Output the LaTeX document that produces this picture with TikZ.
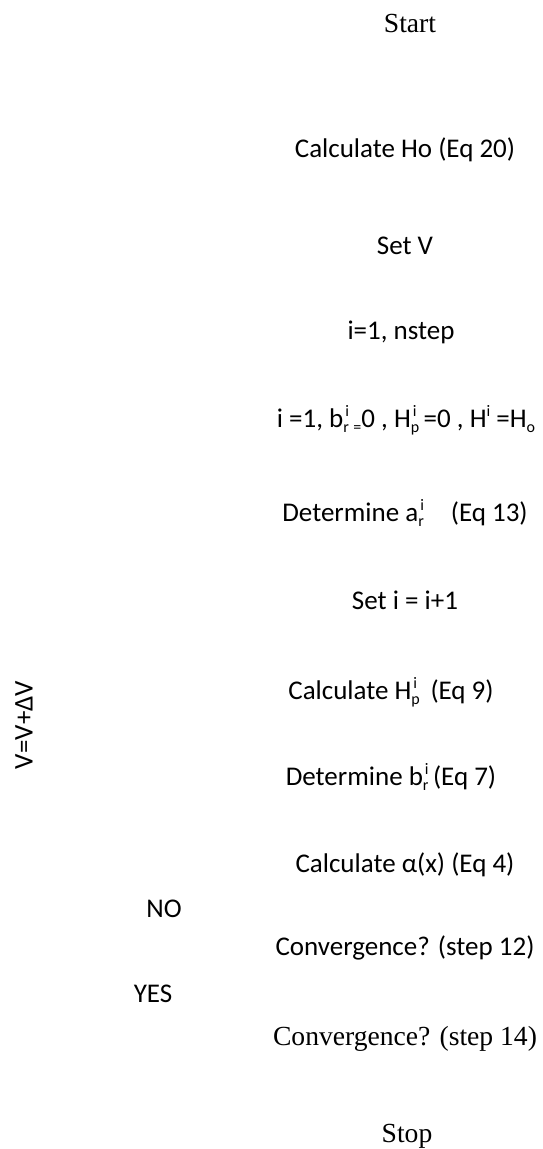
\documentclass[tikz,border=0pt]{standalone}
\usepackage{fontspec}
\setmainfont{Carlito}
\newfontfamily\tnr{Liberation Serif}
\newcommand{\smx}[1]{{\fontsize{16}{16}\selectfont #1}}
\newcommand{\supx}[1]{\raisebox{11pt}{\smx{#1}}}
\newcommand{\subx}[1]{\raisebox{-5pt}{\smx{#1}}}
\newcommand{\sbsp}[2]{\makebox[0pt][l]{\hspace{2pt}\supx{#2}}\subx{#1}}
\begin{document}
\begin{tikzpicture}[x=1pt,y=-1pt,
  lbl/.style={anchor=base,inner sep=0pt,font=\fontsize{27}{32}\selectfont},
  tlbl/.style={anchor=base,inner sep=0pt,font=\fontsize{27.6}{32}\selectfont\tnr}]
\useasboundingbox (0,0) rectangle (542,1149);
\node[tlbl] (start) at (410,32) {Start};
\node[lbl] (ho) at (405,157) {Calculate Ho (Eq 20)};
\node[lbl] (setv) at (405,254) {Set V};
\node[lbl] (loop) at (401,339) {i=1, nstep};
\node[lbl] (init) at (406,427) {i =1, b\sbsp{r}{i}\,\subx{=}0 , H\sbsp{p}{i}\,=0 , H\supx{i} =H\subx{o}};
\node[lbl] (ar) at (405,521) {Determine a\sbsp{r}{i}\quad (Eq 13)};
\node[lbl] (inc) at (405,609) {Set i = i+1};
\node[lbl] (hp) at (391,699) {Calculate H\sbsp{p}{i}\, (Eq 9)};
\node[lbl] (br) at (391,785) {Determine b\sbsp{r}{i}\,(Eq 7)};
\node[lbl] (alpha) at (405,872) {Calculate α(x) (Eq 4)};
\node[lbl] (no) at (164,917) {NO};
\node[lbl] (conv12) at (405,955) {Convergence? (step 12)};
\node[lbl] (yes) at (153,1002) {YES};
\node[tlbl] (conv14) at (405,1045) {Convergence? (step 14)};
\node[tlbl] (stop) at (407,1142) {Stop};
\node[inner sep=0pt,rotate=90,font=\fontsize{27}{32}\selectfont] (dv) at (24,725) {V=V+ΔV};
\end{tikzpicture}
\end{document}
